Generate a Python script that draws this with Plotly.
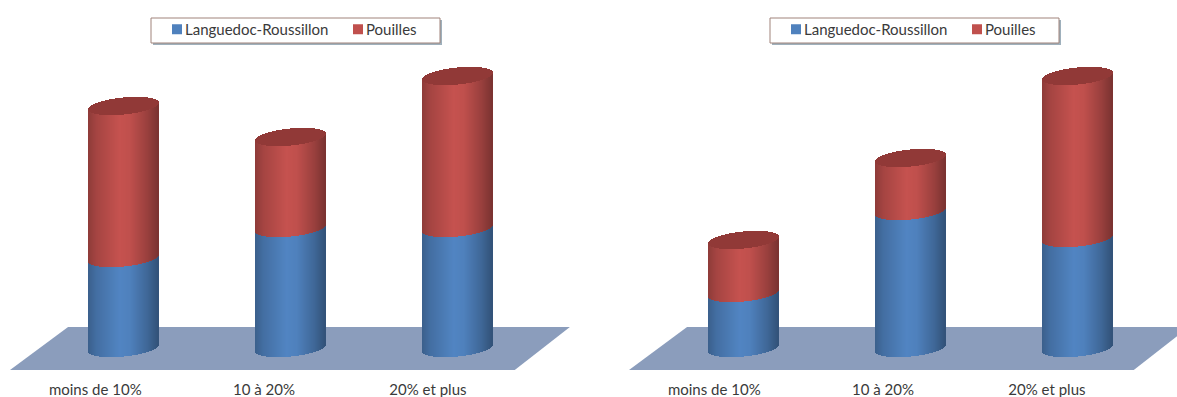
import numpy as np
import plotly.graph_objects as go

categories = ["moins de 10%", "10 à 20%", "20% et plus"]
series_names = ["Languedoc-Roussillon", "Pouilles"]
left_blue = [90, 120, 120]
left_red = [152, 91, 152]
right_blue = [55, 137, 110]
right_red = [53, 53, 162]

W, H = 1177, 397
BOTTOM_M = 19
PLOT_H = H - BOTTOM_M
ZERO_PX = 348
SPACING = 167.0
A, B, TILT = 35.0, 8.5, 3.3
N = 70
STOPS = [0, .12, .45, .6, .85, 1]
GAIN = [.74, .86, 1.03, 1.0, .8, .64]
BLUE, RED, TOPC = (79, 129, 189), (192, 80, 77), (145, 57, 55)


def strips(values, bases, rgb, top=False):
    x, y, base, col, w = [], [], [], [], []
    for i, (v, b0) in enumerate(zip(values, bases)):
        for k in range(N):
            u = (k + .5) / N * 2 - 1
            lip = TILT * u - B * np.sqrt(1 - u * u)
            g = 1.0 if top else np.interp((u + 1) / 2, STOPS, GAIN)
            x.append(i + u * A / SPACING)
            w.append(2.6 * A / N / SPACING)
            base.append(b0 + lip)
            y.append(2 * B * np.sqrt(1 - u * u) if top else v)
            col.append("rgb(%d,%d,%d)" % tuple(int(c * g) for c in rgb))
    return dict(x=x, y=y, base=base, width=w, marker=dict(color=col, line=dict(width=0)))


def add_chart(fig, blue, red, xa, ya, legend):
    totals = [a + b for a, b in zip(blue, red)]
    common = dict(xaxis=xa, yaxis=ya, showlegend=False, hoverinfo="skip")
    fig.add_trace(go.Bar(**strips(blue, [0] * 3, BLUE), **common))
    fig.add_trace(go.Bar(**strips(red, blue, RED), **common))
    fig.add_trace(go.Bar(**strips(red, totals, TOPC, top=True), **common))
    for name, c in zip(series_names, ["#4f81bd", "#c0504d"]):
        fig.add_trace(go.Scatter(x=[None], y=[None], name=name, mode="markers", xaxis=xa, yaxis=ya,
                                 legend=legend, marker=dict(symbol="square", size=10, color=c)))


fig = go.Figure()
add_chart(fig, left_blue, left_red, "x", "y", "legend")
add_chart(fig, right_blue, right_red, "x2", "y2", "legend2")

tick_pos = [-0.172, -0.162, -0.18]
tick_vals = [i + d for i, d in enumerate(tick_pos)]
xbase = dict(showgrid=False, zeroline=False, showline=False, ticks="", ticklabelstandoff=1,
             tickmode="array", tickvals=tick_vals, ticktext=categories, tickangle=0,
             tickfont=dict(family="Lato", size=15, color="#3a3a3a"))
ybase = dict(visible=False, range=[ZERO_PX - PLOT_H, ZERO_PX])
split = 588.5 / W
legend_base = dict(orientation="h", yanchor="top", xanchor="left", bgcolor="rgba(0,0,0,0)", borderwidth=0,
                   font=dict(family="Lato", size=15, color="#3a3a3a"), itemwidth=30,
                   traceorder="normal", entrywidthmode="pixels", entrywidth=136)
floor_col = "#8b9dbc"


def floor(xr, yr):
    return dict(type="path", xref=xr, yref=yr, layer="below", fillcolor=floor_col, line=dict(width=0),
                path="M -0.6825,-22 L -0.335,21 L 2.67,21 L 2.34,-22 Z")


def legend_box(x0):
    x1 = x0 + 289
    yp = lambda p: 1 - p / PLOT_H
    return [
        dict(type="rect", xref="paper", yref="paper", x0=(x0 + 2) / W, x1=(x1 + 2) / W, y0=yp(45), y1=yp(20),
             fillcolor="#9fb0bc", line=dict(width=0)),
        dict(type="rect", xref="paper", yref="paper", x0=x0 / W, x1=x1 / W, y0=yp(43), y1=yp(18),
             fillcolor="white", line=dict(width=1, color="#a0837a")),
    ]


fig.update_layout(
    width=W, height=H, margin=dict(l=0, r=0, t=0, b=BOTTOM_M, autoexpand=False), barmode="overlay", bargap=0,
    plot_bgcolor="white", paper_bgcolor="white", showlegend=True,
    xaxis=dict(domain=[0, split], range=[-124 / SPACING, (588.5 - 124) / SPACING], **xbase),
    xaxis2=dict(domain=[split, 1], range=[(588.5 - 743) / SPACING, (W - 743) / SPACING], **xbase),
    yaxis=dict(domain=[0, 1], **ybase),
    yaxis2=dict(domain=[0, 1], anchor="x2", **ybase),
    legend=dict(x=145 / W, y=1 - 13 / PLOT_H, **legend_base),
    legend2=dict(x=764 / W, y=1 - 13 / PLOT_H, **legend_base),
    shapes=[floor("x", "y"), floor("x2", "y2")] + legend_box(151) + legend_box(770),
)
post = ("document.body.style.margin='0';"
        "document.querySelectorAll('.legendsymbols').forEach(g=>g.setAttribute('transform','translate(12,0)'));")
fig.write_html("out.html", post_script=post, config=dict(displayModeBar=False))
